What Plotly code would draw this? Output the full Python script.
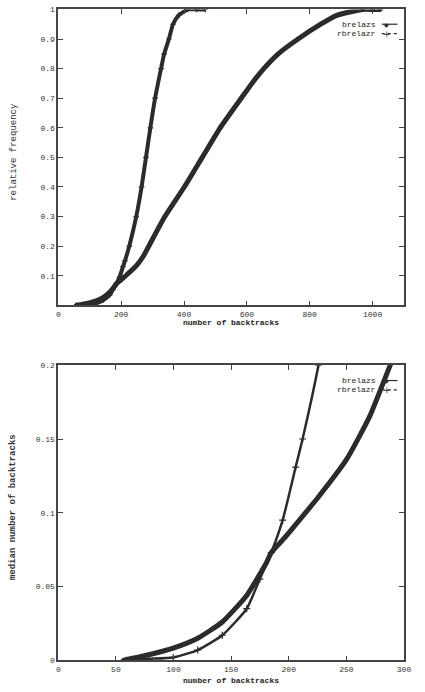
import plotly.graph_objects as go

# Data (number of backtracks vs relative frequency)
brelazs_x = [56, 78.6, 99.8, 121, 142.3, 163.5, 180.5, 184.8, 197.5, 206, 225, 250, 270, 288,
             339, 401, 458, 515, 582, 616, 654, 700, 763, 835, 886, 969, 1000, 1026]
brelazs_y = [0.0, 0.0038, 0.0083, 0.015, 0.026, 0.044, 0.066, 0.073, 0.084, 0.092, 0.11, 0.136, 0.165, 0.2,
             0.3, 0.4, 0.5, 0.6, 0.7, 0.75, 0.8, 0.85, 0.9, 0.95, 0.98, 1.0, 1.0, 1.0]
rbrelazr_x = [59, 78.6, 99.8, 121, 142.3, 163.5, 174.8, 184.8, 194.7, 206, 212, 225.8, 248, 265, 279,
              293, 308, 327, 337, 352, 365, 383, 412, 440, 468]
rbrelazr_y = [0.0, 0.001, 0.002, 0.007, 0.017, 0.035, 0.055, 0.073, 0.095, 0.131, 0.15, 0.2, 0.3, 0.4, 0.5,
              0.6, 0.7, 0.8, 0.85, 0.9, 0.95, 0.98, 1.0, 1.0, 1.0]
series_names = ["brelazs", "rbrelazr"]

top_xticks = [0, 200, 400, 600, 800, 1000]
top_yticks = [0.1, 0.2, 0.3, 0.4, 0.5, 0.6, 0.7, 0.8, 0.9, 1]
top_yticktext = ["0.1", "0.2", "0.3", "0.4", "0.5", "0.6", "0.7", "0.8", "0.9", "1"]
bot_xticks = [0, 50, 100, 150, 200, 250, 300]
bot_yticks = [0, 0.05, 0.1, 0.15, 0.2]
bot_yticktext = ["0", "0.05", "0.1", "0.15", "0.2"]

INK = "#2b2b2b"
MONO = "Liberation Mono, DejaVu Sans Mono, monospace"
LINE = dict(shape="spline", smoothing=0.5)

fig = go.Figure()

# top panel
fig.add_trace(go.Scatter(x=brelazs_x, y=brelazs_y, name=series_names[0], mode="lines+markers",
                         line=dict(color=INK, width=5, **LINE),
                         marker=dict(symbol="diamond", size=4, color=INK),
                         xaxis="x", yaxis="y", showlegend=False))
fig.add_trace(go.Scatter(x=rbrelazr_x, y=rbrelazr_y, name=series_names[1], mode="lines+markers",
                         line=dict(color=INK, width=4, **LINE),
                         marker=dict(symbol="cross-thin", size=4, line=dict(color=INK, width=1.2)),
                         xaxis="x", yaxis="y", showlegend=False))
# bottom panel
fig.add_trace(go.Scatter(x=brelazs_x, y=brelazs_y, name=series_names[0], mode="lines+markers",
                         line=dict(color=INK, width=5, **LINE),
                         marker=dict(symbol="diamond", size=4, color=INK),
                         xaxis="x2", yaxis="y2", showlegend=False))
fig.add_trace(go.Scatter(x=rbrelazr_x, y=rbrelazr_y, name=series_names[1], mode="lines+markers",
                         line=dict(color=INK, width=2.5, **LINE),
                         marker=dict(symbol="cross-thin", size=5, line=dict(color=INK, width=1.2)),
                         xaxis="x2", yaxis="y2", showlegend=False))

W, H = 425, 692
xdom = [57.5 / W, 410.7 / W]
ydom_top = [1 - 305.3 / H, 1 - 5.5 / H]
ydom_bot = [1 - 665 / H, 1 - 366 / H]

axis_common = dict(showline=True, linecolor="#444", linewidth=1.5, mirror="ticks",
                   ticks="inside", ticklen=5, tickcolor="#444", tickwidth=1,
                   showgrid=False, zeroline=False,
                   tickfont=dict(family=MONO, size=8, color="#333"))

annotations = [
    dict(text="<b>number of backtracks</b>", x=(xdom[0] + xdom[1]) / 2, y=1 - 323 / H,
         xref="paper", yref="paper", showarrow=False, xanchor="center", yanchor="middle",
         font=dict(family=MONO, size=8, color="#222")),
    dict(text="<b>number of backtracks</b>", x=(xdom[0] + xdom[1]) / 2, y=1 - 685 / H,
         xref="paper", yref="paper", showarrow=False, xanchor="center", yanchor="middle",
         font=dict(family=MONO, size=8, color="#222")),
    dict(text="relative frequency", x=12 / W, y=1 - 150 / H, textangle=-90,
         xref="paper", yref="paper", showarrow=False, xanchor="center", yanchor="middle",
         font=dict(family=MONO, size=9, color="#333")),
    dict(text="<b>median number of backtracks</b>", x=12 / W, y=1 - 510 / H, textangle=-90,
         xref="paper", yref="paper", showarrow=False, xanchor="center", yanchor="middle",
         font=dict(family=MONO, size=9, color="#333")),
]
shapes = []

# gnuplot-style keys: label on the left, sample line + symbol on the right
for top_px in (20.5, 381.5):
    for i, name in enumerate(series_names):
        ypx = top_px + i * 9.5
        yp = 1 - ypx / H
        annotations.append(dict(text=name, x=384 / W, y=yp, xref="paper", yref="paper",
                                showarrow=False, xanchor="right", yanchor="middle",
                                font=dict(family=MONO, size=8, color="#222")))
        shapes.append(dict(type="line", xref="paper", yref="paper",
                           x0=388 / W, x1=404 / W, y0=yp, y1=yp,
                           line=dict(color=INK, width=1.2, dash="solid" if i == 0 else "dot")))
        annotations.append(dict(text="◆" if i == 0 else "+", x=393 / W, y=yp,
                                xref="paper", yref="paper", showarrow=False,
                                xanchor="center", yanchor="middle",
                                font=dict(family="DejaVu Sans", size=6 if i == 0 else 9, color=INK)))

fig.update_layout(
    width=W, height=H, margin=dict(l=0, r=0, t=0, b=0),
    paper_bgcolor="white", plot_bgcolor="white",
    xaxis=dict(domain=xdom, range=[0, 1100], tickvals=top_xticks, anchor="y", **axis_common),
    yaxis=dict(domain=ydom_top, range=[0, 1], tickvals=top_yticks, ticktext=top_yticktext,
               anchor="x", **axis_common),
    xaxis2=dict(domain=xdom, range=[0, 300], tickvals=bot_xticks, anchor="y2", **axis_common),
    yaxis2=dict(domain=ydom_bot, range=[0, 0.2], tickvals=bot_yticks, ticktext=bot_yticktext,
                anchor="x2", **axis_common),
    showlegend=False,
    annotations=annotations,
    shapes=shapes,
)

fig.write_html("out.html")
